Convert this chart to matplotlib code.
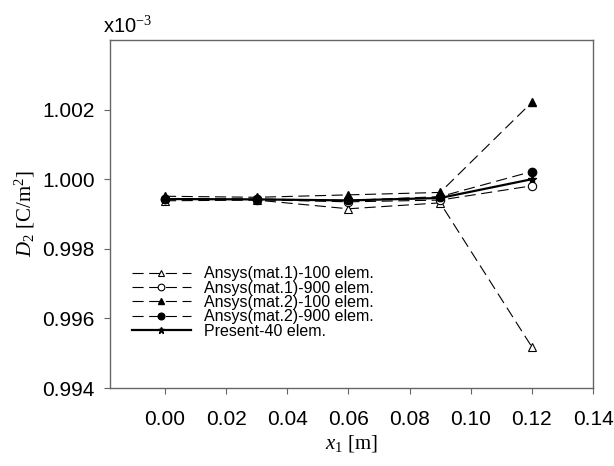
import matplotlib
matplotlib.use('Agg')
import matplotlib.pyplot as plt

plt.rcParams['font.family'] = ['Liberation Sans', 'DejaVu Sans']
plt.rcParams['mathtext.fontset'] = 'custom'
plt.rcParams['mathtext.rm'] = 'Liberation Serif'
plt.rcParams['mathtext.it'] = 'Liberation Serif:italic'

# posiciones x [m] y valores D2 (x10^-3 C/m^2)
x = [0.00, 0.03, 0.06, 0.09, 0.12]
mat1_100 = [0.99938, 0.99940, 0.99915, 0.99932, 0.99518]
mat1_900 = [0.99943, 0.99941, 0.99935, 0.99940, 0.99981]
mat2_100 = [0.99951, 0.99948, 0.99955, 0.99962, 1.00221]
mat2_900 = [0.99944, 0.99943, 0.99939, 0.99950, 1.00022]
present = [0.99943, 0.99942, 0.99939, 0.99946, 1.00000]

labels = ['Ansys(mat.1)-100 elem.', 'Ansys(mat.1)-900 elem.',
          'Ansys(mat.2)-100 elem.', 'Ansys(mat.2)-900 elem.',
          'Present-40 elem.']
xticks = [0.00, 0.02, 0.04, 0.06, 0.08, 0.10, 0.12, 0.14]
yticks = [0.994, 0.996, 0.998, 1.000, 1.002]

fig = plt.figure(figsize=(6.14, 4.66), dpi=100)
ax = fig.add_axes([110/614, 1 - 388/466, 483/614, 348/466])

dash = dict(color='black', lw=0.8, dashes=(10, 5))
ax.plot(x, mat1_100, marker='^', ms=6, mfc='white', mec='black', mew=0.8, label=labels[0], **dash)
ax.plot(x, mat1_900, marker='o', ms=6, mfc='white', mec='black', mew=0.8, label=labels[1], **dash)
ax.plot(x, mat2_100, marker='^', ms=6, mfc='black', mec='black', label=labels[2], **dash)
ax.plot(x, mat2_900, marker='o', ms=6, mfc='black', mec='black', label=labels[3], **dash)
ax.plot(x, present, color='black', lw=1.6, marker='*', ms=6, label=labels[4])

ax.set_xlim(-0.018, 0.14)
ax.set_ylim(0.994, 1.004)
ax.set_xticks(xticks)
ax.set_xticklabels([f'{v:.2f}' for v in xticks])
ax.set_yticks(yticks)
ax.set_yticklabels([f'{v:.3f}' for v in yticks])

for s in ax.spines.values():
    s.set_color('#666666')
    s.set_linewidth(1.0)
ax.tick_params(axis='x', direction='out', length=4, color='#666666', labelsize=15, pad=12)
ax.tick_params(axis='y', direction='out', length=4, color='#666666', labelsize=15, pad=7)

ax.set_xlabel(r'$x_1$ [m]', fontsize=15, family='Liberation Serif', labelpad=3)
ax.set_ylabel(r'$D_2$ [C/m$^2$]', fontsize=15, family='Liberation Serif', labelpad=4)

fig.text(103/614, 1 - 33/466, r'x10$^{-3}$', fontsize=14.5, ha='left', va='baseline')

ax.legend(loc='upper left', bbox_to_anchor=(0.045, 0.35), frameon=False,
          fontsize=11.5, handlelength=3.7, handletextpad=0.85, labelspacing=-0.04,
          borderpad=0, borderaxespad=0, markerscale=0.8)

fig.savefig('out.png', dpi=100)
